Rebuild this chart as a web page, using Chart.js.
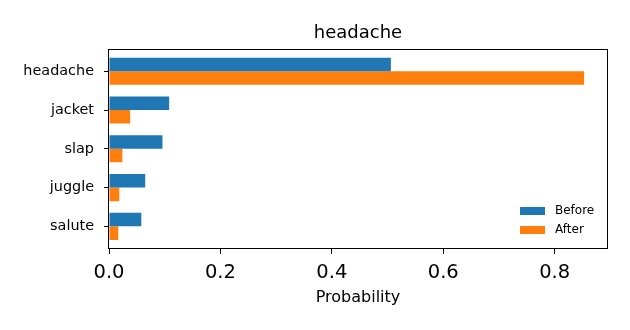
<!DOCTYPE html>
<html lang="en">
<head>
    <meta charset="UTF-8">
    <title>headache</title>
    <script src="https://cdn.jsdelivr.net/npm/chart.js"></script>
    <style>
        html, body { margin: 0; padding: 0; background: #fff; }
        #wrap { width: 630px; height: 330px; position: relative; }
    </style>
</head>
<body>
    <div id="wrap"><canvas id="probChart"></canvas></div>

    <script>
        // chart values
        var categories = ['headache', 'jacket', 'slap', 'juggle', 'salute'];
        var before = [0.506, 0.108, 0.096, 0.065, 0.058];
        var after = [0.853, 0.038, 0.024, 0.0185, 0.0167];
        var xTicks = [0.0, 0.2, 0.4, 0.6, 0.8];

        var FONT = 'DejaVu Sans';

        // box around the plot and a legend in the lower right corner
        var framePlugin = {
            id: 'frame',
            afterDraw: function(chart) {
                var ctx = chart.ctx;
                var a = chart.chartArea;
                ctx.save();
                ctx.strokeStyle = '#000';
                ctx.lineWidth = 1;
                ctx.strokeRect(Math.round(a.left) - 0.5, Math.round(a.top) + 0.5,
                    Math.round(a.right - a.left) + 1, Math.round(a.bottom - a.top) - 1);

                // legend
                var items = chart.data.datasets;
                var boxW = 25, boxH = 8, rowH = 19;
                var x0 = a.right - 87;
                var y0 = a.bottom - 38;
                ctx.font = '12px "' + FONT + '"';
                ctx.textBaseline = 'middle';
                ctx.textAlign = 'left';
                items.forEach(function(ds, i) {
                    var cy = y0 + i * rowH;
                    ctx.fillStyle = ds.backgroundColor;
                    ctx.fillRect(x0, cy - boxH / 2, boxW, boxH);
                    ctx.fillStyle = '#000';
                    ctx.fillText(ds.label, x0 + 35, cy);
                });
                ctx.restore();
            }
        };

        var ctx = document.getElementById('probChart').getContext('2d');
        var chart = new Chart(ctx, {
            type: 'bar',
            data: {
                datasets: [{
                    label: 'Before',
                    data: before.map(function(v, i) { return { x: v, y: i }; }),
                    backgroundColor: '#1f77b4'
                }, {
                    label: 'After',
                    data: after.map(function(v, i) { return { x: v, y: i }; }),
                    backgroundColor: '#ff7f0e'
                }]
            },
            options: {
                indexAxis: 'y',
                responsive: true,
                maintainAspectRatio: false,
                animation: false,
                categoryPercentage: 0.7,
                barPercentage: 1.0,
                layout: { padding: { left: 0, right: 23, top: 0, bottom: 0 } },
                plugins: {
                    legend: { display: false },
                    tooltip: { enabled: false },
                    title: {
                        display: true,
                        text: 'headache',
                        fullSize: false,
                        color: '#000',
                        font: { family: FONT, size: 18, weight: 'normal' },
                        padding: { top: 23, bottom: 4 }
                    }
                },
                scales: {
                    x: {
                        type: 'linear',
                        min: 0,
                        max: 0.894,
                        afterBuildTicks: function(scale) {
                            scale.ticks = xTicks.map(function(v) { return { value: v }; });
                        },
                        afterFit: function(scale) { scale.height = 81; },
                        ticks: {
                            color: '#000',
                            padding: 7,
                            maxRotation: 0,
                            font: { family: FONT, size: 19.5 },
                            callback: function(v) { return Number(v).toFixed(1); }
                        },
                        grid: {
                            drawOnChartArea: false,
                            drawTicks: true,
                            tickLength: 5,
                            color: '#000'
                        },
                        border: { display: false },
                        title: {
                            display: true,
                            text: 'Probability',
                            color: '#000',
                            font: { family: FONT, size: 16 },
                            padding: { top: 0, bottom: 23 }
                        }
                    },
                    y: {
                        type: 'linear',
                        reverse: true,
                        offset: false,
                        min: -0.585,
                        max: 4.585,
                        afterBuildTicks: function(scale) {
                            scale.ticks = categories.map(function(c, i) { return { value: i }; });
                        },
                        afterFit: function(scale) { scale.width = 109; },
                        ticks: {
                            color: '#000',
                            padding: 10,
                            font: { family: FONT, size: 14.4 },
                            callback: function(v) { return categories[v]; }
                        },
                        grid: {
                            offset: false,
                            drawOnChartArea: false,
                            drawTicks: true,
                            tickLength: 5,
                            color: '#000'
                        },
                        border: { display: false }
                    }
                }
            },
            plugins: [framePlugin]
        });
    </script>
</body>
</html>
